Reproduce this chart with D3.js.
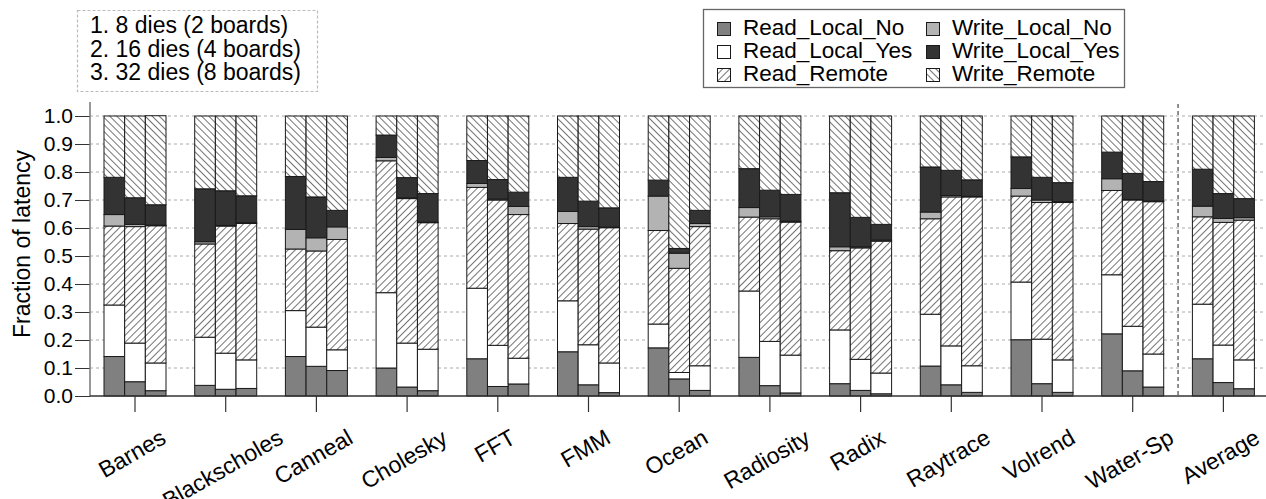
<!DOCTYPE html>
<html>
<head>
<meta charset="utf-8">
<script src="https://cdn.jsdelivr.net/npm/d3@7"></script>
<style>
  html, body { margin: 0; padding: 0; background: #fff; }
  svg { display: block; font-family: "Liberation Sans", Arial, Helvetica, sans-serif; }
</style>
</head>
<body>
<div id="chart"></div>
<script>
const groups = ["Barnes", "Blackscholes", "Canneal", "Cholesky", "FFT", "FMM", "Ocean",
  "Radiosity", "Radix", "Raytrace", "Volrend", "Water-Sp", "Average"];
const configs = ["1. 8 dies (2 boards)", "2. 16 dies (4 boards)", "3. 32 dies (8 boards)"];
const seriesNames = ["Read_Local_No", "Read_Local_Yes", "Read_Remote",
  "Write_Local_No", "Write_Local_Yes", "Write_Remote"];

// one triple per benchmark: 8 / 16 / 32 dies
const readLocalNo = [
  [0.141, 0.051, 0.019], [0.038, 0.024, 0.027], [0.141, 0.106, 0.091], [0.100, 0.032, 0.019],
  [0.133, 0.034, 0.043], [0.158, 0.040, 0.012], [0.172, 0.061, 0.020], [0.138, 0.037, 0.011],
  [0.044, 0.020, 0.008], [0.107, 0.040, 0.013], [0.201, 0.044, 0.013], [0.222, 0.090, 0.032],
  [0.133, 0.048, 0.026]];
const readLocalYes = [
  [0.184, 0.138, 0.099], [0.172, 0.129, 0.102], [0.164, 0.140, 0.074], [0.269, 0.157, 0.148],
  [0.252, 0.147, 0.092], [0.182, 0.143, 0.106], [0.085, 0.023, 0.088], [0.237, 0.158, 0.135],
  [0.192, 0.111, 0.074], [0.185, 0.139, 0.095], [0.206, 0.159, 0.116], [0.211, 0.159, 0.118],
  [0.195, 0.134, 0.103]];
const readRemote = [
  [0.282, 0.416, 0.490], [0.333, 0.454, 0.487], [0.220, 0.272, 0.394], [0.471, 0.516, 0.452],
  [0.360, 0.519, 0.513], [0.276, 0.413, 0.483], [0.334, 0.372, 0.497], [0.264, 0.438, 0.475],
  [0.283, 0.398, 0.471], [0.341, 0.532, 0.603], [0.307, 0.488, 0.562], [0.301, 0.451, 0.544],
  [0.312, 0.438, 0.499]];
const writeLocalNo = [
  [0.041, 0.008, 0.002], [0.008, 0.002, 0.003], [0.070, 0.047, 0.045], [0.012, 0.003, 0.002],
  [0.014, 0.004, 0.029], [0.043, 0.009, 0.002], [0.123, 0.054, 0.011], [0.034, 0.007, 0.003],
  [0.014, 0.004, 0.004], [0.024, 0.005, 0.002], [0.027, 0.009, 0.003], [0.042, 0.002, 0.002],
  [0.038, 0.014, 0.009]];
const writeLocalYes = [
  [0.133, 0.095, 0.073], [0.189, 0.124, 0.096], [0.189, 0.146, 0.059], [0.080, 0.072, 0.102],
  [0.082, 0.069, 0.051], [0.122, 0.091, 0.069], [0.057, 0.017, 0.047], [0.139, 0.095, 0.096],
  [0.193, 0.105, 0.056], [0.161, 0.090, 0.059], [0.113, 0.081, 0.068], [0.095, 0.093, 0.070],
  [0.132, 0.089, 0.068]];
const writeRemote = [
  [0.219, 0.292, 0.318], [0.260, 0.267, 0.285], [0.216, 0.289, 0.337], [0.068, 0.220, 0.277],
  [0.159, 0.227, 0.272], [0.219, 0.304, 0.328], [0.229, 0.473, 0.337], [0.188, 0.265, 0.280],
  [0.274, 0.362, 0.387], [0.182, 0.194, 0.228], [0.146, 0.219, 0.238], [0.129, 0.205, 0.234],
  [0.190, 0.277, 0.295]];
const yTicks = [0, 0.1, 0.2, 0.3, 0.4, 0.5, 0.6, 0.7, 0.8, 0.9, 1.0];

const seriesData = [readLocalNo, readLocalYes, readRemote, writeLocalNo, writeLocalYes, writeRemote];
const fills = ["#808080", "#ffffff", "url(#hatchFwd)", "#b3b3b3", "#333333", "url(#hatchBack)"];

const W = 1266, H = 499;
const svg = d3.select("#chart").append("svg").attr("width", W).attr("height", H);

const defs = svg.append("defs");
function hatch(id, angle) {
  const p = defs.append("pattern")
    .attr("id", id)
    .attr("patternUnits", "userSpaceOnUse")
    .attr("width", 5).attr("height", 5)
    .attr("patternTransform", `rotate(${angle})`);
  p.append("rect").attr("width", 5).attr("height", 5).attr("fill", "#fff");
  p.append("line").attr("x1", 0).attr("y1", 0).attr("x2", 0).attr("y2", 5)
    .attr("stroke", "#000").attr("stroke-width", 1.1);
}
hatch("hatchFwd", 45);
hatch("hatchBack", -45);

const x0 = 89.65, step = 90.7;
const x = d3.scaleBand()
  .domain(groups)
  .range([x0, x0 + step * groups.length])
  .paddingInner(28.7 / step)
  .paddingOuter(28.7 / step / 2);
const xc = d3.scaleBand().domain(d3.range(configs.length)).range([0, x.bandwidth()]);
const y = d3.scaleLinear().domain([0, 1]).range([396, 116]);

// grid
svg.append("g").selectAll("line")
  .data(yTicks.filter(d => d > 0))
  .join("line")
  .attr("x1", 90).attr("x2", W)
  .attr("y1", d => y(d)).attr("y2", d => y(d))
  .attr("stroke", "#aaa").attr("stroke-width", 1).attr("stroke-dasharray", "3,3");

// stacked rows
const rows = [];
groups.forEach((g, gi) => {
  configs.forEach((c, ci) => {
    const r = { group: g, cfg: ci };
    seriesNames.forEach((s, si) => { r[s] = seriesData[si][gi][ci]; });
    rows.push(r);
  });
});
const stacked = d3.stack().keys(seriesNames)(rows);

const gBars = svg.append("g");
stacked.forEach((layer, si) => {
  gBars.append("g").selectAll("rect")
    .data(layer)
    .join("rect")
    .attr("x", d => x(d.data.group) + xc(d.data.cfg))
    .attr("width", xc.bandwidth())
    .attr("y", d => y(d[1]))
    .attr("height", d => y(d[0]) - y(d[1]))
    .attr("fill", fills[si])
    .attr("stroke", "#1a1a1a")
    .attr("stroke-width", 1);
});

// separator before Average
const sepX = (x("Water-Sp") + x.bandwidth() + x("Average")) / 2;
svg.append("line")
  .attr("x1", sepX).attr("x2", sepX).attr("y1", 104).attr("y2", 396)
  .attr("stroke", "#555").attr("stroke-width", 1.3).attr("stroke-dasharray", "4,3");

// y axis
const yAxis = svg.append("g").attr("transform", "translate(90,0)")
  .call(d3.axisLeft(y).tickValues(yTicks).tickFormat(d3.format(".1f")).tickSize(15).tickPadding(2));
yAxis.select(".domain").remove();
yAxis.append("line").attr("x1", 0).attr("x2", 0).attr("y1", 102).attr("y2", 396)
  .attr("stroke", "#777").attr("stroke-width", 1.5);
yAxis.selectAll(".tick line").attr("stroke", "#333");
yAxis.selectAll(".tick text").attr("font-size", 21).attr("fill", "#000")
  .attr("font-family", "Liberation Sans, Arial, sans-serif");

svg.append("text")
  .attr("transform", "translate(30,244) rotate(-90)")
  .attr("text-anchor", "middle")
  .attr("font-size", 23)
  .text("Fraction of latency");

// x axis
svg.append("line").attr("x1", 90).attr("x2", W).attr("y1", 396).attr("y2", 396)
  .attr("stroke", "#333").attr("stroke-width", 1.3);
const gx = svg.append("g");
groups.forEach(g => {
  const cx = x(g) + x.bandwidth() / 2;
  gx.append("line").attr("x1", cx).attr("x2", cx).attr("y1", 396).attr("y2", 412)
    .attr("stroke", "#333").attr("stroke-width", 1.2);
  const lg = gx.append("g");
  lg.append("text").attr("transform", "rotate(-30)").attr("text-anchor", "middle")
    .attr("font-size", 23).text(g);
  const bb = lg.node().getBBox();
  lg.attr("transform", `translate(${cx - 3 - (bb.x + bb.width / 2)},${424 - bb.y})`);
});

// config box (top-left)
svg.append("rect").attr("x", 77.5).attr("y", 10.5).attr("width", 240).attr("height", 81)
  .attr("fill", "none").attr("stroke", "#bbb").attr("stroke-width", 1.2).attr("stroke-dasharray", "3,2");
svg.append("g").selectAll("text").data(configs).join("text")
  .attr("x", 90).attr("y", (d, i) => 33 + i * 23.5)
  .attr("font-size", 23).text(d => d);

// series legend (top-right)
svg.append("rect").attr("x", 703.5).attr("y", 9.5).attr("width", 421).attr("height", 78)
  .attr("fill", "#fff").attr("stroke", "#666").attr("stroke-width", 1.3);
const leg = svg.append("g").selectAll("g").data(seriesNames).join("g")
  .attr("transform", (d, i) => `translate(${i < 3 ? 717 : 926},${35 + (i % 3) * 23})`);
leg.append("rect").attr("x", 0.5).attr("y", -12.5).attr("width", 13).attr("height", 13)
  .attr("fill", (d, i) => fills[i]).attr("stroke", "#1a1a1a").attr("stroke-width", 1);
leg.append("text").attr("x", 26).attr("y", 0).attr("font-size", 22.5).text(d => d);
</script>
</body>
</html>
